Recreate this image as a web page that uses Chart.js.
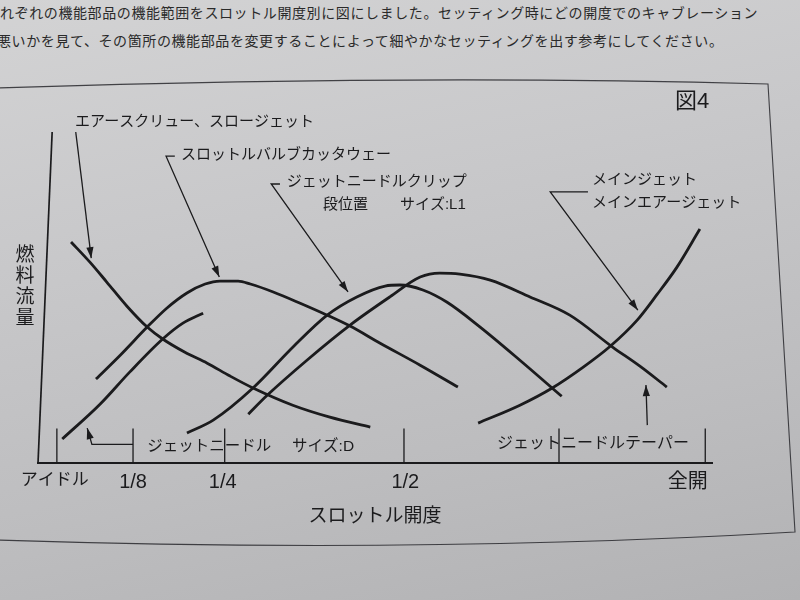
<!DOCTYPE html>
<html lang="ja">
<head>
<meta charset="utf-8">
<script src="https://cdn.jsdelivr.net/npm/chart.js@4.4.1/dist/chart.umd.min.js"></script>
<style>
html,body{margin:0;padding:0;width:800px;height:600px;overflow:hidden;}
body{position:relative;background:linear-gradient(168deg,#d3d3d4 0%,#c8c8ca 35%,#bdbdbf 70%,#b2b2b4 100%);font-family:"Noto Sans CJK JP","Noto Sans",sans-serif;color:#262626;}
.para{position:absolute;font-size:14px;letter-spacing:0.6px;white-space:nowrap;line-height:14px;color:#2a2a2a;}
#c{position:absolute;left:0;top:0;}
</style>
</head>
<body>
<div class="para" style="left:0;top:5px">れぞれの機能部品の機能範囲をスロットル開度別に図にしました。セッティング時にどの開度でのキャブレーション</div>
<div class="para" style="left:-3px;top:33px">悪いかを見て、その箇所の機能部品を変更することによって細やかなセッティングを出す参考にしてください。</div>
<canvas id="c" width="800" height="600"></canvas>
<script>
// ---- data (x: throttle opening, y: fuel flow, arbitrary units 0-100) ----
const xTickValues = [2.5, 14.1, 27.4, 54.5, 96.4];
const xTickLabels = ['アイドル', '1/8', '1/4', '1/2', '全開'];
const tickMarkValues = [2.8, 14.1, 27.7, 54.3, 77.3, 99.0];
const tickMarkHeight = 10.5;

const airScrewSlowJet = [[4.9,66.8],[7.7,60.7],[10.2,54.7],[13.2,47.4],[16.2,41.1],[18.5,37.5],[21.8,33.5],[25.1,30.2],[28.5,26.3],[31.9,22.7],[37.8,17.5],[43.3,13.9],[49.3,10.9]];
const slowCircuit = [[3.6,7.3],[9.2,17.8],[13.6,27.5],[18.5,37.5],[21.5,42.3],[24.5,45.3]];
const throttleCutaway = [[8.6,25.4],[12.2,32.6],[16.2,41.1],[19.1,46.8],[22.1,51.4],[24.8,54.1],[27.0,55.0],[29.7,55.0],[31.5,54.1],[34.9,51.7],[38.9,48.3],[42.9,44.7],[46.3,41.4],[50.7,36.3],[56.7,29.6],[62.3,23.0]];
const needleClipA = [[22.1,9.1],[26.0,13.0],[31.9,22.7],[37.8,35.0],[42.9,44.7],[47.3,50.2],[51.5,53.5],[53.7,53.8],[57.1,52.3],[60.7,48.6],[65.6,41.1],[71.5,31.1],[77.7,20.2]];
const needleClipB = [[31.2,14.8],[34.0,20.5],[39.9,31.1],[46.3,41.7],[52.2,50.2],[56.7,56.2],[59.6,57.4],[62.6,57.1],[67.1,55.3],[73.0,50.2],[78.9,44.7],[85.3,35.0],[89.3,29.3],[93.3,23.0]];
const mainJet = [[65.3,12.1],[71.5,17.5],[76.3,22.7],[80.9,29.0],[84.9,35.3],[88.9,43.2],[91.8,50.8],[94.8,59.2],[98.2,70.7]];

const seriesNames = ['エアースクリュー、スロージェット','スロー系','スロットルバルブカッタウェー','ジェットニードルクリップ段位置A','ジェットニードルクリップ段位置B','メインジェット'];
const seriesData = [airScrewSlowJet, slowCircuit, throttleCutaway, needleClipA, needleClipB, mainJet];

// ---- callout texts ----
const calloutTexts = ['エアースクリュー、スロージェット','スロットルバルブカッタウェー','ジェットニードルクリップ','段位置','サイズ:L1','メインジェット','メインエアージェット','図4','ジェットニードル','サイズ:D','ジェットニードルテーパー'];
const yTitle = '燃料流量';

// ---- layout (data-space positions of callouts & leader lines) ----
const calloutPos = [[5.5,103.0,15],[21.2,93.1,15],[36.9,84.9,15],[42.3,77.9,15],[53.7,77.9,15],[82.2,85.5,15],[82.2,78.5,15],[94.5,109.1,22],[16.2,5.1,15.5],[37.7,5.1,15.5],[68.1,6.0,16]];
const leaders = [
  [[5.6,100.0],[7.9,61.9]],
  [[20.3,92.7],[19.0,92.7],[26.9,56.2]],
  [[35.9,84.3],[34.6,84.3],[46.0,51.7]],
  [[81.6,81.9],[76.0,81.9],[89.0,46.2]],
  [[14.1,5.7],[8.0,5.7],[7.3,10.6]],
  [[90.4,11.5],[90.2,23.6]]
];
const INK = '#1b1b1d';
const FONT = '"Liberation Sans","Noto Sans CJK JP",sans-serif';

const framePlugin = {
  id: 'frame',
  beforeDraw(chart){
    const ctx = chart.ctx;
    ctx.save();
    ctx.strokeStyle = 'rgba(40,40,45,0.85)';
    ctx.lineWidth = 1.1;
    ctx.beginPath();
    ctx.moveTo(-5, 88);
    ctx.quadraticCurveTo(416, 74, 768, 84);
    ctx.lineTo(795, 532);
    ctx.quadraticCurveTo(418, 554, -5, 540);
    ctx.stroke();
    ctx.restore();
  }
};

function arrowHead(ctx, x1, y1, x2, y2){
  const a = Math.atan2(y2 - y1, x2 - x1), L = 11, W = 3.6;
  ctx.beginPath();
  ctx.moveTo(x2, y2);
  ctx.lineTo(x2 - L*Math.cos(a) + W*Math.sin(a), y2 - L*Math.sin(a) - W*Math.cos(a));
  ctx.lineTo(x2 - L*Math.cos(a) - W*Math.sin(a), y2 - L*Math.sin(a) + W*Math.cos(a));
  ctx.closePath();
  ctx.fill();
}

const annotatePlugin = {
  id: 'annotate',
  afterDraw(chart){
    const {ctx, scales:{x, y}} = chart;
    const px = v => x.getPixelForValue(v), py = v => y.getPixelForValue(v);
    ctx.save();
    ctx.strokeStyle = INK; ctx.fillStyle = INK;
    // slanted fuel-flow axis
    ctx.lineWidth = 1.7;
    ctx.beginPath(); ctx.moveTo(px(0), py(0)); ctx.lineTo(px(2.1), py(100)); ctx.stroke();
    // inner tick marks
    ctx.lineWidth = 1.3;
    tickMarkValues.forEach(v => {
      ctx.beginPath(); ctx.moveTo(px(v), py(0)); ctx.lineTo(px(v), py(tickMarkHeight)); ctx.stroke();
    });
    // leader lines with arrows
    ctx.lineWidth = 1.3;
    leaders.forEach(pts => {
      ctx.beginPath();
      pts.forEach((p, i) => { const X = px(p[0]), Y = py(p[1]); i ? ctx.lineTo(X, Y) : ctx.moveTo(X, Y); });
      ctx.stroke();
      const a = pts[pts.length-2], b = pts[pts.length-1];
      arrowHead(ctx, px(a[0]), py(a[1]), px(b[0]), py(b[1]));
    });
    // callout texts
    ctx.textAlign = 'left'; ctx.textBaseline = 'middle';
    calloutTexts.forEach((t, i) => {
      const [vx, vy, s] = calloutPos[i];
      ctx.font = s + 'px ' + FONT;
      ctx.fillText(t, px(vx), py(vy));
    });
    // stacked vertical y title
    ctx.textAlign = 'center';
    ctx.font = '19px ' + FONT;
    [...yTitle].forEach((ch, i) => ctx.fillText(ch, 25, 256 + i*20.8));
    ctx.restore();
  }
};

new Chart(document.getElementById('c'), {
  type: 'line',
  data: {
    datasets: seriesData.map((d, i) => ({
      label: seriesNames[i],
      data: d.map(p => ({x: p[0], y: p[1]})),
      borderColor: INK,
      borderWidth: 2.8,
      pointRadius: 0,
      fill: false,
      cubicInterpolationMode: 'monotone'
    }))
  },
  options: {
    responsive: false,
    animation: false,
    events: [],
    layout: {padding: {left: 38, right: 88, top: 132, bottom: 72}},
    plugins: {legend: {display: false}, tooltip: {enabled: false}},
    scales: {
      x: {
        type: 'linear', min: 0, max: 100,
        afterBuildTicks: s => { s.ticks = xTickValues.map(v => ({value: v})); },
        ticks: {
          autoSkip: false, maxRotation: 0, padding: 7, color: INK,
          font: c => ({family: FONT, size: c.index === 0 ? 17 : 20}),
          callback: (v, i) => xTickLabels[i]
        },
        grid: {display: false, drawTicks: false},
        border: {display: true, color: INK, width: 2},
        title: {display: true, text: 'スロットル開度', color: INK, font: {family: FONT, size: 19}, padding: {top: 4, bottom: 0}}
      },
      y: {type: 'linear', min: 0, max: 100, display: false}
    }
  },
  plugins: [framePlugin, annotatePlugin]
});
</script>
</body>
</html>
